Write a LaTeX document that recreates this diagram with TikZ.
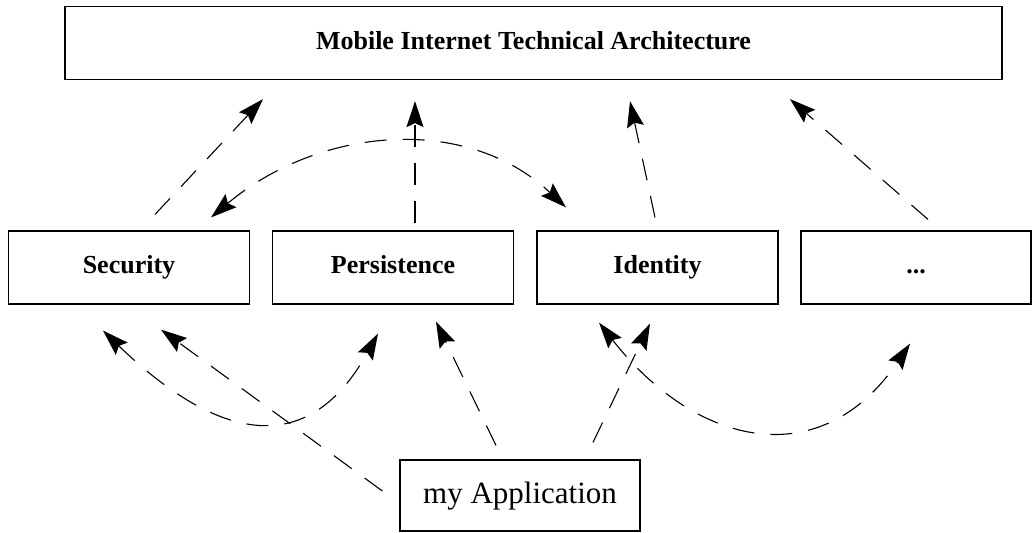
\documentclass[tikz,border=0pt]{standalone}
\usepackage{fontspec}
\setmainfont{Liberation Serif}
\usetikzlibrary{arrows.meta}

\tikzset{%
  every block/.style={
    rectangle,
    draw,
    line width=0.6pt,
    minimum height=36.5pt,
    inner sep=0pt,
    text height=9pt,
    text depth=3pt,
    font=\bfseries\fontsize{13}{15}\selectfont
  },
  depends/.style={
    dash pattern=on 11pt off 8pt,
    line width=0.55pt
  },
}

\begin{document}
\begin{tikzpicture}[x=0.5pt, y=-0.5pt, >={Stealth[length=13pt, width=8.5pt, inset=2pt]}]

    \useasboundingbox (0,0) rectangle (1032,532);

    \node [every block, minimum width=468.5pt] (mita) at (533.5,43)
      {Mobile Internet Technical Architecture};

    \foreach \n/\l/\x in {sec/Security/129, per/Persistence/393, ide/Identity/657.5}
      \node [every block, minimum width=120.5pt] (\n) at (\x,267.5) {\l};

    \node [every block, minimum width=115pt] (more) at (916,267.5) {...};

    \node [every block, minimum width=120pt, minimum height=35.5pt, text height=11pt,
      text depth=3.5pt, font=\fontsize{15.5}{18}\selectfont] (app) at (520,495.5)
      {my Application};

    \foreach \n/\sx/\sy/\ex/\ey in {sec/26/-16/-270.5/19, per/22/-7/-118.5/21,
        ide/-2.5/-13/96.5/21, more/12/-11/256.5/19}
      \draw [depends, ->] ([shift={(\sx,\sy)}]\n.north) -- ([shift={(\ex,\ey)}]mita.south);

    \draw [depends, <->] ([shift={(82,-13)}]sec.north)
      to [out=40, in=137] ([shift={(-91.5,-23)}]ide.north);

    \draw [depends, <->] ([shift={(-26,26)}]sec.south)
      to [out=-44, in=-119, looseness=1.4] ([shift={(-15,29)}]per.south);

    \draw [depends, <->] ([shift={(-58.5,18)}]ide.south)
      to [out=-52, in=-124, looseness=1.3] ([shift={(-6,39)}]more.south);

    \draw [depends, ->] ([shift={(-17,-4.5)}]app.west) -- ([shift={(32,25)}]sec.south);
    \draw [depends, ->] ([shift={(-24,-14)}]app.north) -- ([shift={(43,17)}]per.south);
    \draw [depends, ->] ([shift={(73,-17)}]app.north) -- ([shift={(-7.5,19)}]ide.south);

\end{tikzpicture}
\end{document}
